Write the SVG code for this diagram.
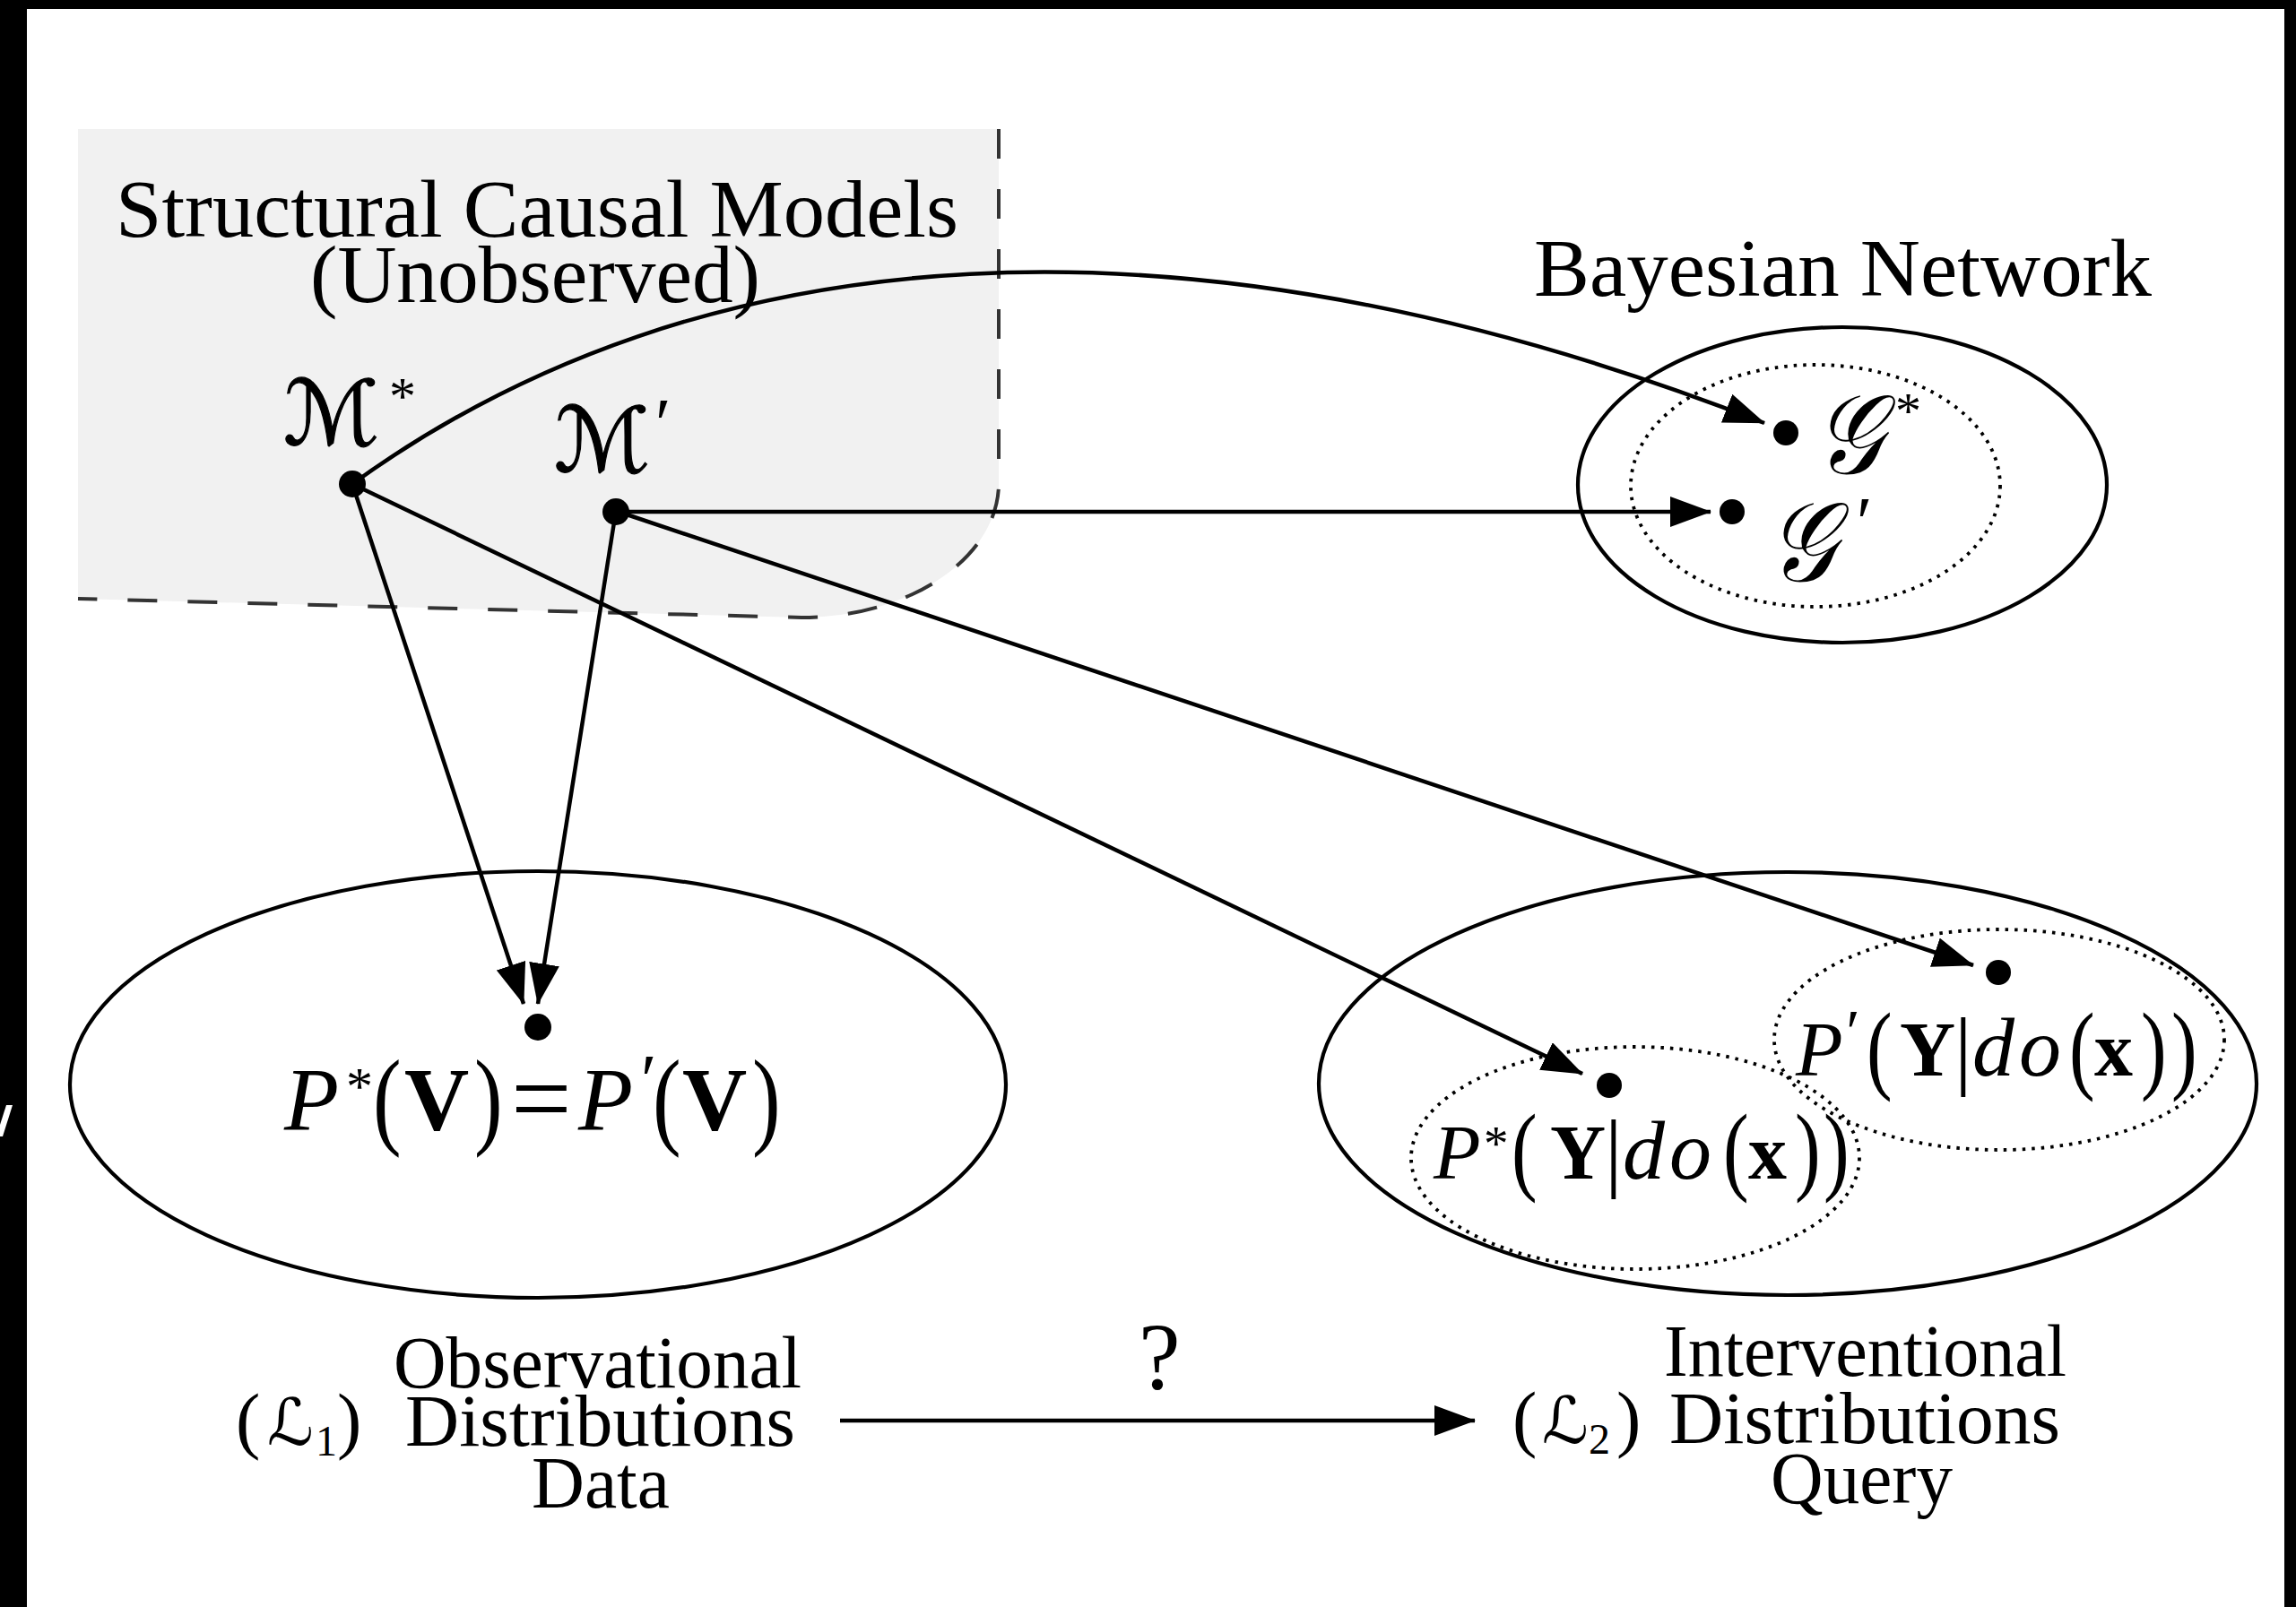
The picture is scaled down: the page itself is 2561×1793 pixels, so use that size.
<svg xmlns="http://www.w3.org/2000/svg" width="2561" height="1793" viewBox="0 0 2561 1793">
  <defs>
    <style>
      .serif { font-family: "Liberation Serif", "Times New Roman", serif; fill: #000; }
      .script { font-family: "DejaVu Serif", "DejaVu Sans", "Liberation Serif", serif; font-style: italic; fill: #000; }
      .it { font-style: italic; }
      .bf { font-weight: bold; }
      .edge { fill: none; stroke: #000; stroke-width: 4.5; }
      .solid { fill: none; stroke: #000; stroke-width: 4.2; }
      .dotted { fill: none; stroke: #000; stroke-width: 3.8; stroke-dasharray: 3.5 7; }
      .dot { fill: #000; }
    </style>
    <marker id="arrow" markerUnits="userSpaceOnUse" viewBox="0 0 46 34" refX="45" refY="17" markerWidth="46" markerHeight="34" orient="auto">
      <path d="M0,0 L46,17 L0,34 Z" fill="#000"/>
    </marker>
  </defs>

  <!-- frame -->
  <rect x="0" y="0" width="2561" height="1793" fill="#000"/>
  <rect x="30" y="10" width="2518" height="1783" fill="#fff"/>
  <polygon points="7,1233 14,1233 3,1268 0,1268 0,1255" fill="#fff"/>

  <!-- unobserved SCM region -->
  <g id="scm-region">
    <path d="M87,144 L1114,144 L1114,537 A220,150 0 0 1 894,689 L87,668 Z" fill="#f1f1f1"/>
    <path d="M1114,144 L1114,537 A220,150 0 0 1 894,689 L87,668" fill="none" stroke="#333" stroke-width="4" stroke-dasharray="33 34"/>
    <text class="serif" x="129" y="264" font-size="90" textLength="940" lengthAdjust="spacingAndGlyphs">Structural Causal Models</text>
    <text class="serif" x="346" y="337" font-size="90" textLength="502" lengthAdjust="spacingAndGlyphs">(Unobserved)</text>
  </g>

  <!-- Bayesian network set -->
  <g id="bayesian-network">
    <text class="serif" x="1711" y="330" font-size="90" textLength="689" lengthAdjust="spacingAndGlyphs">Bayesian Network</text>
    <ellipse class="solid" cx="2055" cy="541" rx="295" ry="176"/>
    <ellipse class="dotted" cx="2025" cy="542" rx="206" ry="135"/>
  </g>

  <!-- observational set -->
  <g id="observational-set">
    <ellipse class="solid" cx="600" cy="1210" rx="522" ry="238"/>
  </g>

  <!-- interventional set -->
  <g id="interventional-set">
    <ellipse class="solid" cx="1994" cy="1209" rx="523" ry="236"/>
    <ellipse class="dotted" cx="1824" cy="1292" rx="250" ry="124"/>
    <ellipse class="dotted" cx="2230" cy="1160" rx="251" ry="123"/>
  </g>

  <!-- connectors -->
  <g id="connectors">
    <path class="edge" d="M393,540 C780,260 1318,218 1968,472" marker-end="url(#arrow)"/>
    <path class="edge" d="M687,571 L1908,571" marker-end="url(#arrow)"/>
    <path class="edge" d="M393,540 L1765,1198" marker-end="url(#arrow)"/>
    <path class="edge" d="M687,570 L2201,1077" marker-end="url(#arrow)"/>
    <path class="edge" d="M393,540 L584,1120" marker-end="url(#arrow)"/>
    <path class="edge" d="M687,570 L600,1120" marker-end="url(#arrow)"/>
    <path class="edge" d="M937,1585 L1645,1585" marker-end="url(#arrow)"/>
  </g>

  <!-- model M* -->
  <g id="node-m-star">
    <circle class="dot" cx="393" cy="540" r="15"/>
    <text class="script" x="316" y="496" font-size="100" stroke="#000" stroke-width="1.2">ℳ</text>
    <text class="serif" x="434" y="462" font-size="60">*</text>
  </g>

  <!-- model M' -->
  <g id="node-m-prime">
    <circle class="dot" cx="687" cy="571" r="15"/>
    <text class="script" x="618" y="526" font-size="100" stroke="#000" stroke-width="1.2">ℳ</text>
    <text class="serif it" x="726" y="500" font-size="80">′</text>
  </g>

  <!-- graph G* -->
  <g id="node-g-star">
    <circle class="dot" cx="1992" cy="483" r="14"/>
    <text class="script" transform="translate(2024,528) scale(0.85,1)" font-size="125">𝒢</text>
    <text class="serif" x="2114" y="478" font-size="58">*</text>
  </g>

  <!-- graph G' -->
  <g id="node-g-prime">
    <circle class="dot" cx="1932" cy="571" r="14"/>
    <text class="script" transform="translate(1972,648) scale(0.85,1)" font-size="125">𝒢</text>
    <text class="serif it" x="2066" y="610" font-size="80">′</text>
  </g>

  <!-- observational distribution -->
  <g id="node-pv">
    <circle class="dot" cx="600" cy="1146" r="15"/>
    <text class="serif" y="1260" font-size="100"><tspan class="it" x="317">P</tspan><tspan x="386" y="1232" font-size="60">*</tspan><tspan class="bf" x="451" y="1260">V</tspan><tspan x="570" y="1266" font-size="120">=</tspan><tspan class="it" x="645" y="1260">P</tspan><tspan class="it" x="710" y="1232" font-size="80">′</tspan><tspan class="bf" x="761" y="1260">V</tspan></text>
    <text class="serif" transform="translate(416,1266) scale(1,1.26)" font-size="95">(</text>
    <text class="serif" transform="translate(529,1266) scale(1,1.26)" font-size="95">)</text>
    <text class="serif" transform="translate(728,1266) scale(1,1.26)" font-size="95">(</text>
    <text class="serif" transform="translate(839,1266) scale(1,1.26)" font-size="95">)</text>
  </g>

  <!-- interventional distribution of M* -->
  <g id="node-py-star">
    <circle class="dot" cx="1795" cy="1211" r="14"/>
    <text class="serif" y="1315" font-size="86"><tspan class="it" x="1599">P</tspan><tspan x="1655" y="1294" font-size="55">*</tspan><tspan class="bf" x="1729" y="1315">Y</tspan><tspan x="1790" y="1317" font-size="98">|</tspan><tspan class="it" x="1810" y="1315" font-size="94">d</tspan><tspan class="it" x="1862" font-size="94">o</tspan><tspan class="bf" x="1950">x</tspan></text>
    <text class="serif" transform="translate(1686,1319) scale(1,1.27)" font-size="86">(</text>
    <text class="serif" transform="translate(1922,1319) scale(1,1.27)" font-size="86">(</text>
    <text class="serif" transform="translate(2002,1319) scale(1,1.27)" font-size="86">)</text>
    <text class="serif" transform="translate(2034,1319) scale(1,1.27)" font-size="86">)</text>
  </g>

  <!-- interventional distribution of M' -->
  <g id="node-py-prime">
    <circle class="dot" cx="2229" cy="1085" r="14"/>
    <text class="serif" y="1200" font-size="86"><tspan class="it" x="2003">P</tspan><tspan class="it" x="2055" y="1175" font-size="70">′</tspan><tspan class="bf" x="2119" y="1200">Y</tspan><tspan x="2180" y="1203" font-size="98">|</tspan><tspan class="it" x="2200" y="1200" font-size="94">d</tspan><tspan class="it" x="2252" font-size="94">o</tspan><tspan class="bf" x="2336">x</tspan></text>
    <text class="serif" transform="translate(2082,1206) scale(1,1.27)" font-size="86">(</text>
    <text class="serif" transform="translate(2308,1206) scale(1,1.27)" font-size="86">(</text>
    <text class="serif" transform="translate(2388,1206) scale(1,1.27)" font-size="86">)</text>
    <text class="serif" transform="translate(2422,1206) scale(1,1.27)" font-size="86">)</text>
  </g>

  <!-- rung labels -->
  <g id="label-l1">
    <text class="serif" y="1612" font-size="82"><tspan x="263">(</tspan><tspan class="script" x="298" font-size="72">ℒ</tspan><tspan x="352" y="1624" font-size="48">1</tspan><tspan x="376" y="1612">)</tspan></text>
    <text class="serif" x="439" y="1548" font-size="82" textLength="455" lengthAdjust="spacingAndGlyphs">Observational</text>
    <text class="serif" x="452" y="1613" font-size="82" textLength="435" lengthAdjust="spacingAndGlyphs">Distributions</text>
    <text class="serif" x="593" y="1682" font-size="82" textLength="154" lengthAdjust="spacingAndGlyphs">Data</text>
  </g>

  <g id="label-question">
    <text class="serif" x="1270" y="1550" font-size="105">?</text>
  </g>

  <g id="label-l2">
    <text class="serif" y="1610" font-size="82"><tspan x="1687">(</tspan><tspan class="script" x="1720" font-size="72">ℒ</tspan><tspan x="1772" y="1622" font-size="48">2</tspan><tspan x="1803" y="1610">)</tspan></text>
    <text class="serif" x="1856" y="1535" font-size="82" textLength="449" lengthAdjust="spacingAndGlyphs">Interventional</text>
    <text class="serif" x="1862" y="1610" font-size="82" textLength="436" lengthAdjust="spacingAndGlyphs">Distributions</text>
    <text class="serif" x="1975" y="1677" font-size="82" textLength="203" lengthAdjust="spacingAndGlyphs">Query</text>
  </g>
</svg>
